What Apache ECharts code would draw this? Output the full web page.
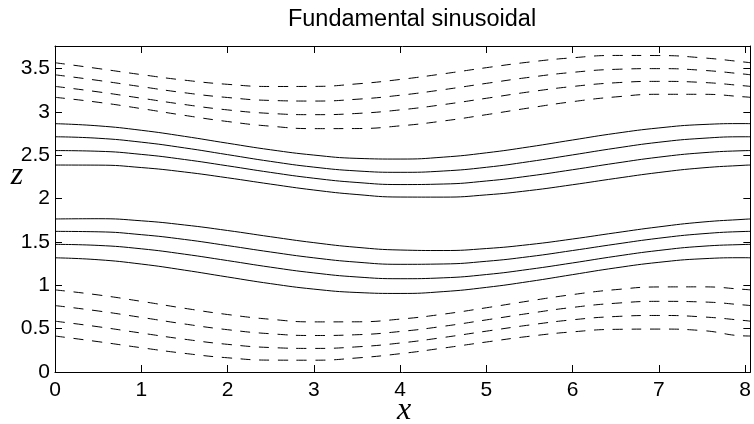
<!DOCTYPE html>
<html>
<head>
<meta charset="utf-8">
<script src="https://cdn.jsdelivr.net/npm/echarts@6/dist/echarts.min.js"></script>
<style>
html,body{margin:0;padding:0;background:#fff;}
#chart{width:754px;height:424px;}
</style>
</head>
<body>
<div id="chart"></div>
<script>
// x positions (one full wavelength)
const xs = [0, 0.5, 1, 1.5, 2, 2.5, 3, 3.5, 4, 4.5, 5, 5.5, 6, 6.5, 7, 7.5, 8, 8.06];

// solid curves (upper group, top to bottom)
const c1 = [2.864, 2.839, 2.788, 2.718, 2.639, 2.563, 2.502, 2.464, 2.456, 2.478, 2.528, 2.597, 2.676, 2.753, 2.815, 2.854, 2.865, 2.864];
const c2 = [2.713, 2.696, 2.651, 2.585, 2.507, 2.429, 2.363, 2.319, 2.303, 2.318, 2.361, 2.427, 2.504, 2.582, 2.650, 2.695, 2.713, 2.713];
const c3 = [2.554, 2.546, 2.510, 2.451, 2.378, 2.302, 2.235, 2.186, 2.162, 2.168, 2.203, 2.261, 2.333, 2.409, 2.478, 2.528, 2.553, 2.554];
const c4 = [2.387, 2.386, 2.358, 2.307, 2.240, 2.167, 2.099, 2.047, 2.018, 2.017, 2.043, 2.093, 2.160, 2.233, 2.301, 2.354, 2.385, 2.387];
// solid curves (lower group, top to bottom)
const c5 = [1.765, 1.768, 1.744, 1.696, 1.632, 1.560, 1.492, 1.438, 1.407, 1.401, 1.424, 1.470, 1.534, 1.606, 1.674, 1.729, 1.762, 1.765];
const c6 = [1.622, 1.617, 1.584, 1.529, 1.458, 1.384, 1.317, 1.267, 1.242, 1.246, 1.277, 1.331, 1.401, 1.475, 1.543, 1.594, 1.621, 1.622];
const c7 = [1.472, 1.460, 1.421, 1.359, 1.285, 1.209, 1.143, 1.096, 1.076, 1.086, 1.124, 1.185, 1.258, 1.335, 1.402, 1.450, 1.471, 1.472];
const c8 = [1.317, 1.295, 1.245, 1.175, 1.096, 1.019, 0.956, 0.917, 0.906, 0.927, 0.976, 1.044, 1.123, 1.201, 1.265, 1.306, 1.318, 1.317];
// dashed curves (upper group, top to bottom)
const d1 = [3.567, 3.500, 3.430, 3.366, 3.318, 3.293, 3.294, 3.323, 3.374, 3.439, 3.510, 3.575, 3.624, 3.651, 3.650, 3.624, 3.574, 3.567];
const d2 = [3.428, 3.363, 3.291, 3.221, 3.166, 3.132, 3.125, 3.146, 3.192, 3.256, 3.329, 3.399, 3.456, 3.491, 3.499, 3.480, 3.435, 3.428];
const d3 = [3.294, 3.231, 3.158, 3.085, 3.023, 2.982, 2.968, 2.982, 3.023, 3.084, 3.157, 3.231, 3.293, 3.336, 3.352, 3.340, 3.300, 3.294];
const d4 = [3.168, 3.111, 3.038, 2.960, 2.889, 2.835, 2.807, 2.808, 2.839, 2.895, 2.968, 3.046, 3.118, 3.173, 3.203, 3.203, 3.173, 3.168];
// dashed curves (lower group, top to bottom)
const d5 = [0.947, 0.889, 0.815, 0.735, 0.663, 0.608, 0.578, 0.579, 0.610, 0.667, 0.741, 0.820, 0.893, 0.950, 0.981, 0.982, 0.952, 0.947];
const d6 = [0.766, 0.704, 0.630, 0.554, 0.488, 0.441, 0.421, 0.430, 0.467, 0.527, 0.601, 0.677, 0.745, 0.793, 0.815, 0.808, 0.772, 0.766];
const d7 = [0.586, 0.522, 0.449, 0.378, 0.319, 0.282, 0.272, 0.290, 0.334, 0.398, 0.471, 0.542, 0.602, 0.640, 0.652, 0.636, 0.593, 0.586];
const d8 = [0.415, 0.350, 0.280, 0.215, 0.164, 0.137, 0.136, 0.162, 0.211, 0.276, 0.346, 0.412, 0.463, 0.492, 0.495, 0.478, 0.416, 0.415];

const xTicks = [0, 1, 2, 3, 4, 5, 6, 7, 8];
const yTicks = [0, 0.5, 1, 1.5, 2, 2.5, 3, 3.5];

const solidSets = [c1, c2, c3, c4, c5, c6, c7, c8];
const dashedSets = [d1, d2, d3, d4, d5, d6, d7, d8];

function toPairs(arr) { return xs.map((x, i) => [x, arr[i]]); }

const series = [];
solidSets.forEach(s => series.push({
  type: 'line', data: toPairs(s), smooth: true, showSymbol: false, silent: true,
  lineStyle: { color: '#000', width: 1, type: 'solid' }
}));
dashedSets.forEach(s => series.push({
  type: 'line', data: toPairs(s), smooth: true, showSymbol: false, silent: true,
  lineStyle: { color: '#000', width: 1, type: [10, 8.7] }
}));

const XMAX = 8.06, YMAX = 3.76;
const font = 'Liberation Sans, Arial, Helvetica, sans-serif';

function xAxisCfg(pos, labels) {
  return {
    type: 'value', position: pos, min: 0, max: XMAX, interval: 1,
    axisLine: { show: true, onZero: false, lineStyle: { color: '#000', width: 1 } },
    axisTick: { show: true, inside: true, length: 7, lineStyle: { color: '#000' } },
    axisLabel: {
      show: labels, color: '#000', fontSize: 21, fontFamily: font, margin: 8,
      formatter: v => xTicks.includes(v) ? String(v) : ''
    },
    splitLine: { show: false }
  };
}
function yAxisCfg(pos, labels) {
  return {
    type: 'value', position: pos, min: 0, max: YMAX, interval: 0.5,
    axisLine: { show: true, onZero: false, lineStyle: { color: '#000', width: 1 } },
    axisTick: { show: true, inside: true, length: 7, lineStyle: { color: '#000' } },
    axisLabel: {
      show: labels, color: '#000', fontSize: 21, fontFamily: font, margin: 5,
      formatter: v => yTicks.some(t => Math.abs(t - v) < 1e-9) ? String(v) : ''
    },
    splitLine: { show: false }
  };
}

const chart = echarts.init(document.getElementById('chart'), null, { renderer: 'canvas' });
chart.setOption({
  animation: false,
  backgroundColor: '#fff',
  grid: { left: 55, right: 1, top: 46, bottom: 52, containLabel: false },
  xAxis: [xAxisCfg('bottom', true), xAxisCfg('top', false)],
  yAxis: [yAxisCfg('left', true), yAxisCfg('right', false)],
  graphic: [
    { type: 'text', x: 412, y: 20, style: { text: 'Fundamental sinusoidal', fill: '#000', font: '23.5px ' + font, textAlign: 'center', textVerticalAlign: 'middle' } },
    { type: 'text', x: 404, y: 411, style: { text: 'x', fill: '#000', font: 'italic 32px Liberation Serif, Times New Roman, serif', textAlign: 'center', textVerticalAlign: 'middle' } },
    { type: 'text', x: 17, y: 176, style: { text: 'z', fill: '#000', font: 'italic 32px Liberation Serif, Times New Roman, serif', textAlign: 'center', textVerticalAlign: 'middle' } }
  ],
  series: series
});
</script>
</body>
</html>
